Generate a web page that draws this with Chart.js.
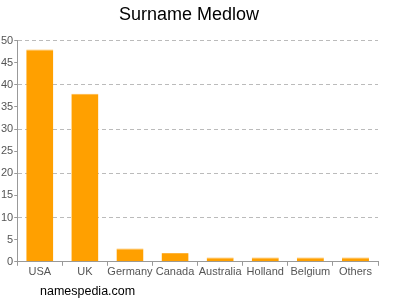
<!DOCTYPE html>
<html>
<head>
<meta charset="utf-8">
<script src="https://cdn.jsdelivr.net/npm/chart.js@4/dist/chart.umd.min.js"></script>
<style>
html,body{margin:0;padding:0;background:#fff;}
#wrap{position:relative;width:400px;height:300px;}
#wm{position:absolute;left:40px;top:284px;font:12.5px "Liberation Sans",Arial,sans-serif;color:#000;}
</style>
</head>
<body>
<div id="wrap">
<canvas id="c" width="400" height="300"></canvas>
<div id="wm">namespedia.com</div>
</div>
<script>
const categories = ["USA","UK","Germany","Canada","Australia","Holland","Belgium","Others"];
const counts = [48,38,3,2,1,1,1,1];
const titleText = "Surname Medlow";

new Chart(document.getElementById('c'), {
  type: 'bar',
  data: {
    labels: categories,
    datasets: [{
      data: counts,
      backgroundColor: '#FFA000',
      borderColor: '#FFB43A',
      borderWidth: {top: 1, left: 0, right: 0, bottom: 0},
      borderSkipped: 'bottom',
      categoryPercentage: 0.6,
      barPercentage: 1.0
    }]
  },
  options: {
    responsive: false,
    animation: false,
    events: [],
    layout: {padding: {left: 0, right: 22, top: 0, bottom: 21}},
    plugins: {
      legend: {display: false},
      tooltip: {enabled: false},
      title: {
        display: true,
        text: titleText,
        color: '#000',
        font: {family: '"Liberation Sans", Arial, sans-serif', size: 18, weight: 'normal'},
        padding: {top: 4, bottom: 15}
      }
    },
    scales: {
      x: {
        offset: true,
        grid: {
          drawOnChartArea: false,
          drawTicks: true,
          tickLength: 4,
          tickColor: '#999'
        },
        border: {display: true, color: '#999', width: 1},
        ticks: {
          color: '#555',
          font: {family: '"Liberation Sans", Arial, sans-serif', size: 11},
          padding: 0,
          maxRotation: 0,
          autoSkip: false
        }
      },
      y: {
        min: 0,
        max: 50,
        grid: {
          color: (ctx) => (ctx.tick && ctx.tick.value > 0 && ctx.tick.value % 10 === 0) ? '#bbb' : 'rgba(0,0,0,0)',
          tickColor: '#999',
          tickLength: 3,
          lineWidth: 1
        },
        border: {display: true, color: '#999', width: 1, dash: [4, 3]},
        ticks: {
          stepSize: 5,
          color: '#555',
          font: {family: '"Liberation Sans", Arial, sans-serif', size: 11},
          padding: 1
        }
      }
    }
  }
});
</script>
</body>
</html>
